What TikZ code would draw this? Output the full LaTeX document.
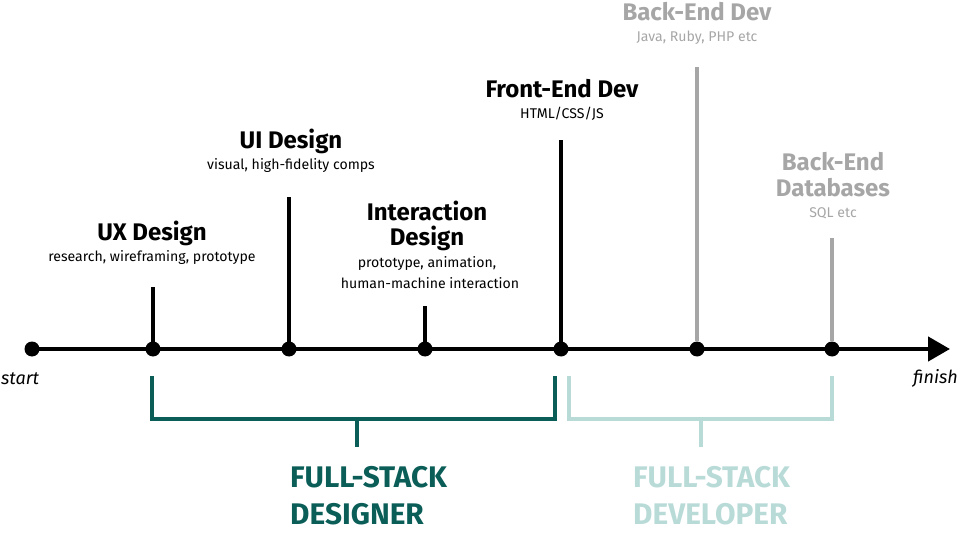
\documentclass[tikz,border=0pt]{standalone}
\usepackage{fontspec}
\setmainfont{Fira Sans}
\usetikzlibrary{arrows.meta}
\definecolor{dteal}{HTML}{0B5E58}
\definecolor{lteal}{HTML}{B9DBD8}
\definecolor{lgray}{HTML}{A6A6A6}
\begin{document}
\begin{tikzpicture}[x=1pt,y=-1pt,
  title/.style={font=\fontsize{24}{26}\selectfont\bfseries, anchor=base, inner sep=0pt},
  sub/.style={font=\fontsize{14.1}{17}\selectfont, anchor=base, inner sep=0pt},
  endlbl/.style={font=\fontsize{18}{20}\selectfont\itshape, anchor=base, inner sep=0pt},
  stack/.style={font=\fontsize{29.8}{37}\selectfont\bfseries, anchor=base west, inner sep=0pt},
  dot/.style={circle, fill=black, minimum size=15pt, inner sep=0pt},
  tick/.style={line width=4pt},
  bracket/.style={line width=3.5pt, line join=miter}]
\useasboundingbox (0,0) rectangle (960,534);
% timeline
\node[dot] (d0) at (32,349) {};
\coordinate (tip) at (950,349);
\draw[line width=4.5pt, -{Triangle[length=22pt,width=24pt]}] (d0.center) -- (tip);
% ticks
\coordinate (t1) at (153,287);
\coordinate (t2) at (289,197);
\coordinate (t3) at (425,306);
\coordinate (t4) at (561,140);
\coordinate (t5) at (697,67);
\coordinate (t6) at (832,238);
\node[dot] (d1) at (153,349) {};
\node[dot] (d2) at (289,349) {};
\node[dot] (d3) at (425,349) {};
\node[dot] (d4) at (561,349) {};
\node[dot] (d5) at (697,349) {};
\node[dot] (d6) at (832,349) {};
\draw[tick] (d1.center) -- (t1);
\draw[tick] (d2.center) -- (t2);
\draw[tick] (d3.center) -- (t3);
\draw[tick] (d4.center) -- (t4);
\draw[tick, lgray] (d5.north) -- (t5);
\draw[tick, lgray] (d6.north) -- (t6);
% start / finish
\node[endlbl, anchor=base west] (start) at (1,384) {start};
\node[endlbl, anchor=base east] (finish) at (958,383) {finish};
% labels
\node[title] (ux) at (152,241) {UX Design};
\node[sub] (uxs) at (152,262) {research, wireframing, prototype};
\node[title] (ui) at (291,149) {UI Design};
\node[sub] (uis) at (291,170) {visual, high-fidelity comps};
\node[title] (ix1) at (427,221) {Interaction};
\node[title] (ix2) at (427,246) {Design};
\node[sub] (ixs1) at (427,268) {prototype, animation,};
\node[sub] (ixs2) at (430,289) {human-machine interaction};
\node[title] (fe) at (562,98) {Front-End Dev};
\node[sub] (fes) at (562,119) {HTML/CSS/JS};
\node[title, lgray] (be) at (697,21) {Back-End Dev};
\node[sub, lgray] (bes) at (697,42) {Java, Ruby, PHP etc};
\node[title, lgray] (db1) at (833,171) {Back-End};
\node[title, lgray] (db2) at (833,197) {Databases};
\node[sub, lgray] (dbs) at (833,218) {SQL etc};
% brackets
\coordinate (a1) at (152,376);
\coordinate (a2) at (152,419);
\coordinate (a3) at (555,419);
\coordinate (a4) at (555,376);
\coordinate (am) at (357,419);
\coordinate (as) at (357,447);
\draw[bracket, dteal] (a1) -- (a2) -- (a3) -- (a4);
\draw[bracket, dteal] (am) -- (as);
\coordinate (c1) at (569,376);
\coordinate (c2) at (569,419);
\coordinate (c3) at (832,419);
\coordinate (c4) at (832,376);
\coordinate (cm) at (701,419);
\coordinate (cs) at (701,447);
\draw[bracket, lteal] (c1) -- (c2) -- (c3) -- (c4);
\draw[bracket, lteal] (cm) -- (cs);
\node[stack, dteal] (fsd1) at (290,487) {FULL-STACK};
\node[stack, dteal] (fsd2) at (290,524) {DESIGNER};
\node[stack, lteal] (fsv1) at (633,487) {FULL-STACK};
\node[stack, lteal] (fsv2) at (633,524) {DEVELOPER};
\end{tikzpicture}
\end{document}
